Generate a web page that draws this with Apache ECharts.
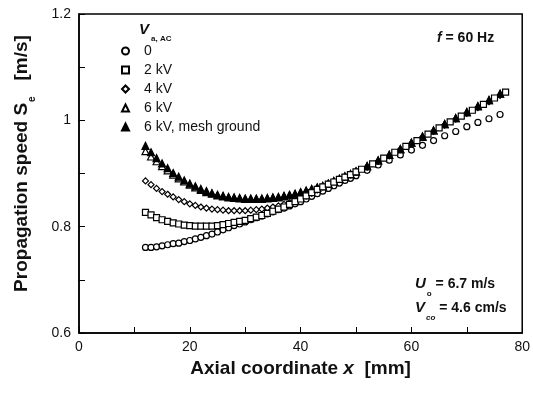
<!DOCTYPE html>
<html>
<head>
<meta charset="utf-8">
<script src="https://cdn.jsdelivr.net/npm/echarts@6/dist/echarts.min.js"></script>
<style>
  html, body { margin: 0; padding: 0; background: #fff; }
  #chart { width: 533px; height: 393px; }
</style>
</head>
<body>
<div id="chart"></div>
<script>
  // axial coordinate x [mm]
  var xs = [12, 13, 14, 15, 16, 17, 18, 19, 20, 21, 22, 23, 24, 25, 26, 27, 28, 29, 30, 31,
    32, 33, 34, 35, 36, 37, 38, 39, 40, 41, 42, 43, 44, 45, 46, 47, 48, 49, 50,
    52, 54, 56, 58, 60, 62, 64, 66, 68, 70, 72, 74, 76];
  // the 2 kV run is sampled a little further out
  var xs2 = [12, 13, 14, 15, 16, 17, 18, 19, 20, 21, 22, 23, 24, 25, 26, 27, 28, 29, 30, 31,
    32, 33, 34, 35, 36, 37, 38, 39, 40, 41, 42, 43, 44, 45, 46, 47, 48, 49, 50,
    51, 53, 55, 57, 59, 61, 63, 65, 67, 69, 71, 73, 75, 77];

  // propagation speed Se [m/s]
  var s0 = [0.761, 0.761, 0.762, 0.764, 0.766, 0.768, 0.769, 0.772, 0.774, 0.777, 0.780, 0.783, 0.786, 0.790,
    0.794, 0.798, 0.802, 0.805, 0.809, 0.813, 0.817, 0.820, 0.824, 0.828, 0.832, 0.835, 0.839, 0.843,
    0.847, 0.852, 0.857, 0.862, 0.867, 0.872, 0.877, 0.882, 0.887, 0.891, 0.896,
    0.906, 0.916, 0.925, 0.935, 0.944, 0.953, 0.962, 0.971, 0.979, 0.988, 0.996, 1.003, 1.011];
  var s2 = [0.827, 0.822, 0.817, 0.813, 0.810, 0.807, 0.805, 0.803, 0.802, 0.801, 0.801, 0.801, 0.801, 0.802,
    0.804, 0.806, 0.808, 0.810, 0.812, 0.815, 0.818, 0.821, 0.825, 0.829, 0.833, 0.837, 0.842, 0.847,
    0.852, 0.858, 0.864, 0.870, 0.875, 0.880, 0.884, 0.889, 0.893, 0.898, 0.903,
    0.908, 0.918, 0.929, 0.940, 0.951, 0.962, 0.974, 0.986, 0.997, 1.008, 1.019, 1.030, 1.042, 1.053];
  var s4 = [0.886, 0.879, 0.872, 0.866, 0.861, 0.856, 0.851, 0.847, 0.843, 0.840, 0.837, 0.835, 0.833, 0.832,
    0.831, 0.830, 0.830, 0.830, 0.830, 0.831, 0.832, 0.833, 0.835, 0.837, 0.839, 0.842, 0.845, 0.849,
    0.853, 0.858, 0.863, 0.869, 0.875, 0.880, 0.885, 0.889, 0.894, 0.898, 0.903,
    0.912, 0.923, 0.933, 0.945, 0.956, 0.968, 0.979, 0.991, 1.002, 1.013, 1.024, 1.035, 1.047];
  var s6 = [0.942, 0.932, 0.923, 0.914, 0.906, 0.898, 0.891, 0.885, 0.879, 0.874, 0.869, 0.865, 0.862, 0.859,
    0.857, 0.855, 0.854, 0.853, 0.852, 0.852, 0.852, 0.852, 0.853, 0.854, 0.855, 0.857, 0.859, 0.861,
    0.864, 0.867, 0.870, 0.873, 0.876, 0.881, 0.885, 0.890, 0.894, 0.899, 0.904,
    0.914, 0.924, 0.935, 0.946, 0.958, 0.969, 0.981, 0.993, 1.004, 1.015, 1.026, 1.038, 1.050];
  var s6m = [0.952, 0.940, 0.929, 0.919, 0.910, 0.901, 0.894, 0.887, 0.881, 0.876, 0.871, 0.867, 0.863, 0.860,
    0.858, 0.856, 0.855, 0.854, 0.853, 0.853, 0.853, 0.853, 0.854, 0.855, 0.856, 0.858, 0.860, 0.862,
    0.865, 0.868, 0.871, 0.874, 0.877, 0.881, 0.886, 0.890, 0.895, 0.899, 0.904,
    0.914, 0.925, 0.935, 0.946, 0.958, 0.970, 0.981, 0.993, 1.004, 1.016, 1.027, 1.038, 1.050];

  var names = ['0', '2 kV', '4 kV', '6 kV', '6 kV, mesh ground'];

  var xTicks = [0, 20, 40, 60, 80];
  var yTicks = [0.6, 0.8, 1, 1.2];

  var font = 'Liberation Sans, Arial, sans-serif';

  function pairs(x, ys) {
    return x.map(function (v, i) { return [v, ys[i]]; });
  }

  function run(name, symbol, size, x, ys, filled) {
    return {
      name: name,
      type: 'scatter',
      symbol: symbol,
      symbolSize: size,
      data: pairs(x, ys),
      itemStyle: {
        color: filled ? '#000' : '#fff',
        borderColor: '#000',
        borderWidth: 1.2,
        opacity: 1
      },
      emphasis: { disabled: true }
    };
  }

  var myChart = echarts.init(document.getElementById('chart'));

  var option = {
    animation: false,
    textStyle: { fontFamily: font, color: '#111' },
    title: [
      {
        text: '{v|V}{s|a, AC}',
        left: 134, top: 15,
        textStyle: {
          rich: {
            v: { fontSize: 15, fontWeight: 'bold', fontStyle: 'italic', lineHeight: 20, fontFamily: font, color: '#111' },
            s: { fontSize: 8, fontWeight: 'bold', lineHeight: 10, verticalAlign: 'bottom', padding: [0, 0, -3, 2], fontFamily: font, color: '#111' }
          }
        }
      },
      {
        text: '{i|f}{t| = 60 Hz}',
        left: 432, top: 26,
        textStyle: {
          rich: {
            i: { fontSize: 14, fontWeight: 'bold', fontStyle: 'italic', fontFamily: font, color: '#111' },
            t: { fontSize: 14, fontWeight: 'bold', fontFamily: font, color: '#111' }
          }
        }
      },
      {
        text: '{v|U}{s|o}{t| = 6.7 m/s}',
        left: 410, top: 270,
        textStyle: {
          rich: {
            v: { fontSize: 15, fontWeight: 'bold', fontStyle: 'italic', lineHeight: 18, fontFamily: font, color: '#111' },
            s: { fontSize: 8, fontWeight: 'bold', lineHeight: 10, verticalAlign: 'bottom', padding: [0, 0, -5, 1], fontFamily: font, color: '#111' },
            t: { fontSize: 14, fontWeight: 'bold', lineHeight: 18, fontFamily: font, color: '#111' }
          }
        }
      },
      {
        text: '{v|V}{s|co}{t| = 4.6 cm/s}',
        left: 410, top: 294,
        textStyle: {
          rich: {
            v: { fontSize: 15, fontWeight: 'bold', fontStyle: 'italic', lineHeight: 18, fontFamily: font, color: '#111' },
            s: { fontSize: 8, fontWeight: 'bold', fontStyle: 'italic', lineHeight: 10, verticalAlign: 'bottom', padding: [0, 0, -5, 1], fontFamily: font, color: '#111' },
            t: { fontSize: 14, fontWeight: 'bold', lineHeight: 18, fontFamily: font, color: '#111' }
          }
        }
      }
    ],
    legend: {
      data: names,
      orient: 'vertical',
      left: 116,
      top: 39,
      itemWidth: 7,
      itemHeight: 7,
      itemGap: 5,
      selectedMode: false,
      textStyle: { fontSize: 14, lineHeight: 14, color: '#111', fontFamily: font, padding: [0, 0, 0, 10] }
    },
    grid: {
      left: 79, right: 9, top: 14, bottom: 60,
      show: true,
      borderColor: '#000',
      borderWidth: 1.5,
      backgroundColor: 'transparent'
    },
    xAxis: {
      type: 'value',
      min: 0, max: 80, interval: 20,
      name: '{t|Axial coordinate }{i|x}{t|  [mm]}',
      nameLocation: 'middle',
      nameGap: 26,
      nameTextStyle: {
        rich: {
          t: { fontSize: 19, fontWeight: 'bold', fontFamily: font, color: '#111' },
          i: { fontSize: 19, fontWeight: 'bold', fontStyle: 'italic', fontFamily: font, color: '#111' }
        }
      },
      axisLine: { show: true, lineStyle: { color: '#000', width: 1.5 } },
      axisTick: { show: true, inside: true, length: 6, lineStyle: { color: '#000' } },
      minorTick: { show: true, splitNumber: 2, length: 6, lineStyle: { color: '#000' } },
      splitLine: { show: false },
      axisLabel: {
        fontSize: 14, color: '#111', margin: 7,
        formatter: function (v) { return xTicks.indexOf(v) >= 0 ? String(v) : ''; }
      }
    },
    yAxis: {
      type: 'value',
      min: 0.6, max: 1.2, interval: 0.2,
      name: '{t|Propagation speed S}{s|e}{t|   [m/s]}',
      nameLocation: 'middle',
      nameGap: 46,
      nameRotate: 90,
      nameTextStyle: {
        padding: [0, 0, 0, 20],
        rich: {
          t: { fontSize: 19, fontWeight: 'bold', lineHeight: 22, fontFamily: font, color: '#111' },
          s: { fontSize: 10, fontWeight: 'bold', lineHeight: 10, verticalAlign: 'bottom', padding: [0, 0, -4, 1], fontFamily: font, color: '#111' }
        }
      },
      axisLine: { show: true, lineStyle: { color: '#000', width: 1.5 } },
      axisTick: { show: true, inside: true, length: 6, lineStyle: { color: '#000' } },
      minorTick: { show: true, splitNumber: 2, length: 6, lineStyle: { color: '#000' } },
      splitLine: { show: false },
      axisLabel: {
        fontSize: 14, color: '#111', margin: 8,
        formatter: function (v) {
          var r = Math.round(v * 10) / 10;
          return yTicks.indexOf(r) >= 0 ? String(r) : '';
        }
      }
    },
    // squares drawn last so they show at the top end, as in the original
    series: [
      run(names[0], 'circle', 6, xs, s0, false),
      run(names[2], 'diamond', 6, xs, s4, false),
      run(names[3], 'triangle', 7, xs, s6, false),
      run(names[4], 'triangle', 7, xs, s6m, true),
      run(names[1], 'rect', 6, xs2, s2, false)
    ]
  };

  myChart.setOption(option);
</script>
</body>
</html>
